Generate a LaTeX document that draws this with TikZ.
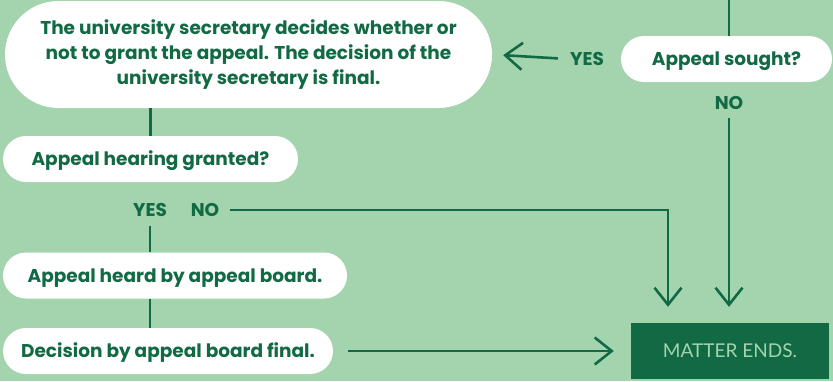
\documentclass[tikz,border=0pt]{standalone}
\usepackage{fontspec}
\setmainfont{Poppins}
\newfontfamily\endsfont{Lato}
\usetikzlibrary{positioning,shapes.misc,arrows.meta}
\definecolor{bggreen}{HTML}{A3D4AE}
\definecolor{darkgreen}{HTML}{116A44}

\begin{document}
\begin{tikzpicture}[x=1pt,y=-1pt,
	pill/.style={rounded rectangle, fill=white, text=darkgreen, inner sep=0pt,
		minimum height=46pt, font=\bfseries\fontsize{18.5}{25}\selectfont},
	onepill/.style={pill, text height=16pt, text depth=3pt},
	lbl/.style={text=darkgreen, inner sep=2pt, font=\bfseries\fontsize{18.5}{20}\selectfont},
	link/.style={draw=darkgreen, line width=2.6pt},
	arr/.style={link, -{Straight Barb[length=17pt, width=27pt]}}]
	
	\fill[bggreen] (0,0) rectangle (833,381);
	\useasboundingbox (0,0) rectangle (833,381);
	
	% boxes
	\node[pill, minimum width=487pt, minimum height=107pt, align=center] (secr) at (248.5,54.5)
		{The university secretary decides whether or\\not to grant the appeal. The decision of the\\university secretary is final.};
	\node[onepill, minimum width=211pt] (sought) at (726.5,59) {Appeal sought?};
	\node[onepill, minimum width=295pt] (granted) at (150.5,159) {Appeal hearing granted?};
	\node[onepill, minimum width=344pt] (heard) at (175,275.5) {Appeal heard by appeal board.};
	\node[onepill, minimum width=330pt] (final) at (168,351) {Decision by appeal board final.};
	\node[fill=darkgreen, text=bggreen, minimum width=198pt, minimum height=56pt,
		font=\endsfont\fontsize{19}{22}\selectfont] (ends) at (730,351) {MATTER ENDS.};
	
	% labels
	\node[lbl] (yessought) at (587,59) {YES};
	\node[lbl] (nosought) at (729,103) {NO};
	\node[lbl] (yesgranted) at (150,210) {YES};
	\node[lbl] (nogranted) at (205,210) {NO};
	\coordinate (top) at (729,0);
	\coordinate (bend) at (668,210);
	
	% connectors
	\draw[link] (top) -- (top |- sought.north);
	\draw[arr, shorten <=10pt, shorten >=11pt] (yessought.west) -- (secr.east);
	\draw[link] (granted.north) -- (granted.north |- secr.south);
	\draw[link, shorten <=7pt] (yesgranted.south) -- (yesgranted.south |- heard.north);
	\draw[link] (yesgranted |- heard.south) -- (yesgranted |- final.north);
	\draw[arr, shorten <=9pt, shorten >=16pt] (nogranted.east) -- (bend) -- (bend |- ends.north);
	\draw[arr, shorten <=6pt, shorten >=16pt] (nosought.south) -- (nosought.south |- ends.north);
	\draw[arr, shorten <=15pt, shorten >=17pt] (final.east) -- (ends.west);
	
\end{tikzpicture}
\end{document}
